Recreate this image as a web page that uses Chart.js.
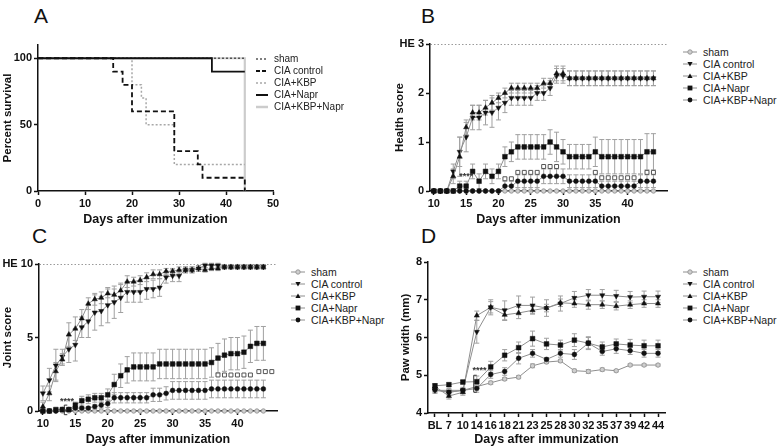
<!DOCTYPE html>
<html>
<head>
<meta charset="utf-8">
<script src="https://cdn.jsdelivr.net/npm/chart.js@4.4.0/dist/chart.umd.min.js"></script>
<style>
  body { margin: 0; width: 778px; height: 447px; position: relative; overflow: hidden; background: #fff;
         font-family: "Liberation Sans", Arial, sans-serif; color: #111; }
  canvas { position: absolute; }
  .letter { position: absolute; font-size: 21px; line-height: 1; color: #111; }
  .legend { position: absolute; font-size: 10.5px; color: #222; }
  .legend div { height: 12px; line-height: 12px; display: flex; align-items: center; white-space: nowrap; }
  .legend svg { margin-right: 6px; flex: none; }
</style>
</head>
<body>
<div class="letter" style="left:34px;top:5px">A</div>
<div class="letter" style="left:421px;top:5px">B</div>
<div class="letter" style="left:32px;top:225px">C</div>
<div class="letter" style="left:421px;top:225px">D</div>

<canvas id="chartA" width="290" height="200" style="left:0;top:30px"></canvas>
<canvas id="chartB" width="290" height="200" style="left:390px;top:30px"></canvas>
<canvas id="chartC" width="290" height="197" style="left:0;top:250px"></canvas>
<canvas id="chartD" width="290" height="197" style="left:390px;top:250px"></canvas>

<script>
const FONT = '"Liberation Sans", Arial, sans-serif';

/* === DATA === */
const groups = ['sham', 'CIA control', 'CIA+KBP', 'CIA+Napr', 'CIA+KBP+Napr'];

// A - survival (step curves)
const aShamDays  = [0, 44];
const aShamSurv  = [100, 100];
const aCtrlDays  = [0, 16, 18, 20, 29, 34, 35, 44, 44];
const aCtrlSurv  = [100, 90, 80, 60, 30, 20, 10, 10, 0];
const aKbpDays   = [0, 20, 22, 23, 29, 44];
const aKbpSurv   = [100, 80, 70, 50, 20, 20];
const aNaprDays  = [0, 37, 44];
const aNaprSurv  = [100, 90, 90];
const aComboDays = [0, 44, 44];
const aComboSurv = [100, 100, 0];
const aXTicks = [0, 10, 20, 30, 40, 50];
const aYTicks = [0, 50, 100];

// B / C - daily scores
const scoreDays = [10, 11, 12, 13, 14, 15, 16, 17, 18, 19, 20, 21, 22, 23, 24, 25, 26, 27, 28, 29,
                   30, 31, 32, 33, 34, 35, 36, 37, 38, 39, 40, 41, 42, 43, 44];
const dayTicks = [10, 15, 20, 25, 30, 35, 40];

const bSham  = [0,0,0,0,0,0,0,0,0,0,0,0,0,0,0,0,0,0,0,0,0,0,0,0,0,0,0,0,0,0,0,0,0,0,0];
const bCtrl  = [0,0,0,0.4,0.8,1.1,1.5,1.5,1.6,1.6,1.7,1.8,1.9,1.9,1.9,1.9,2.0,2.0,2.1,2.35,2.35,
                2.3,2.3,2.3,2.3,2.3,2.3,2.3,2.3,2.3,2.3,2.3,2.3,2.3,2.3];
const bKbp   = [0,0,0,0.3,0.7,1.3,1.6,1.6,1.7,1.8,1.9,2.0,2.1,2.1,2.1,2.1,2.1,2.2,2.2,2.4,2.4,
                2.3,2.3,2.3,2.3,2.3,2.3,2.3,2.3,2.3,2.3,2.3,2.3,2.3,2.3];
const bNapr  = [0,0,0,0,0.1,0.1,0.4,0.2,0.4,0.3,0.4,0.7,0.8,0.9,0.9,0.9,0.9,0.9,1.0,0.9,0.8,
                0.7,0.7,0.7,0.7,0.8,0.7,0.7,0.7,0.7,0.7,0.7,0.7,0.8,0.8];
const bCombo = [0,0,0,0,0,0,0,0,0,0,0,0.1,0.1,0.2,0.2,0.2,0.2,0.3,0.3,0.3,0.3,
                0.2,0.2,0.2,0.2,0.2,0.1,0.1,0.1,0.1,0.1,0.1,0.2,0.2,0.2];
const bCtrlErr  = [0,0,0,0.15,0.3,0.3,0.25,0.25,0.25,0.3,0.25,0.2,0.15,0.15,0.15,0.15,0.15,0.15,0.15,0.15,0.15,
                   0.15,0.15,0.15,0.15,0.15,0.15,0.15,0.15,0.15,0.15,0.15,0.15,0.15,0.15];
const bKbpErr   = [0,0,0,0.15,0.4,0.15,0.15,0.15,0.15,0.15,0.1,0.1,0.1,0.1,0.1,0.1,0.1,0.1,0.1,0.15,0.15,
                   0.15,0.15,0.15,0.15,0.15,0.15,0.15,0.15,0.15,0.15,0.15,0.15,0.15,0.15];
const bNaprErr  = [0,0,0,0,0.1,0.1,0.15,0.15,0.15,0.15,0.15,0.2,0.2,0.25,0.25,0.25,0.25,0.25,0.25,0.3,0.25,
                   0.25,0.25,0.25,0.25,0.3,0.35,0.35,0.35,0.35,0.35,0.35,0.35,0.37,0.37];
const bComboErr = [0,0,0,0,0,0,0,0,0,0,0,0.1,0.1,0.13,0.13,0.13,0.13,0.15,0.15,0.15,0.15,
                   0.13,0.13,0.13,0.13,0.13,0.1,0.1,0.1,0.1,0.1,0.1,0.13,0.13,0.13];
const bSigDays   = [21, 22, 23, 24, 25, 26, 27, 28, 29, 35, 36, 37, 38, 39, 40, 41, 43, 44];
const bSigLevels = [0.25,0.25,0.38,0.38,0.38,0.38,0.5,0.5,0.5,0.38,0.27,0.27,0.27,0.27,0.27,0.27,0.38,0.38];
const bYTicks  = [0, 1, 2, 3];
const bYLabels = ['0', '1', '2', 'HE 3'];

const cSham  = [0,0,0,0,0,0,0,0,0,0,0,0,0,0,0,0,0,0,0,0,0,0,0,0,0,0,0,0,0,0,0,0,0,0,0];
const cCtrl  = [1.2,2.1,3.1,3.7,4.2,4.5,5.7,6.1,6.7,6.8,7.2,7.4,7.7,8.1,8.1,8.1,8.3,8.3,8.4,9.1,9.2,
                9.2,9.6,9.6,9.7,9.9,9.9,9.9,9.8,9.8,9.8,9.8,9.8,9.8,9.8];
const cKbp   = [0.3,1.2,2.7,3.5,5.2,5.6,6.3,7.3,7.6,7.7,8.0,7.9,8.2,8.8,8.8,8.9,9.1,9.3,9.3,9.5,9.5,
                9.6,9.6,9.6,9.7,9.6,9.7,9.7,9.8,9.8,9.8,9.8,9.8,9.8,9.8];
const cNapr  = [0,0,0.1,0.1,0.1,0.4,0.7,0.8,0.9,0.9,1.1,1.8,2.4,2.8,3.0,3.0,3.0,3.0,3.2,3.2,3.2,
                3.2,3.2,3.2,3.2,3.2,3.3,3.6,3.8,3.9,3.9,4.0,4.4,4.6,4.6];
const cCombo = [0,0,0,0.1,0.1,0.2,0.2,0.2,0.3,0.4,0.5,0.9,0.9,0.9,0.9,0.9,0.9,1.1,1.1,1.2,1.4,
                1.4,1.4,1.4,1.4,1.4,1.5,1.5,1.5,1.5,1.5,1.5,1.5,1.5,1.5];
const cCtrlErr  = [0.5,0.8,1.1,0.5,0.9,1.1,0.7,1.1,1.2,1.0,1.2,1.1,1.0,0.7,0.7,0.7,0.7,0.6,0.6,0.4,0.4,
                   0.4,0.2,0.2,0.2,0.15,0.15,0.15,0.15,0.15,0.15,0.15,0.15,0.15,0.15];
const cKbpErr   = [0.3,0.5,0.6,0.4,0.8,0.8,0.6,0.4,0.4,0.4,0.3,0.4,0.4,0.4,0.3,0.3,0.3,0.3,0.3,0.2,0.2,
                   0.2,0.2,0.2,0.2,0.15,0.15,0.15,0.15,0.15,0.15,0.15,0.15,0.15,0.15];
const cNaprErr  = [0.05,0.05,0.05,0.05,0.05,0.2,0.3,0.3,0.3,0.3,0.4,0.7,0.8,0.9,0.95,0.95,0.95,0.95,1.0,1.0,1.0,
                   1.0,1.0,1.0,1.0,1.0,1.0,1.0,1.1,1.1,1.1,1.1,1.1,1.15,1.15];
const cComboErr = [0.05,0.05,0.05,0.05,0.05,0.1,0.1,0.1,0.15,0.2,0.25,0.35,0.35,0.35,0.35,0.35,0.35,0.45,0.45,0.45,0.6,
                   0.6,0.6,0.6,0.6,0.6,0.6,0.6,0.6,0.6,0.6,0.6,0.6,0.6,0.6];
const cSigDays   = [37, 38, 39, 40, 41, 42, 43.3, 44.3, 45.3];
const cSigLevels = [2.45, 2.45, 2.45, 2.45, 2.45, 2.45, 2.68, 2.68, 2.68];
const cYTicks  = [0, 5, 10];
const cYLabels = ['0', '5', 'HE 10'];

// D - paw width
const dLabels = ['BL', '7', '10', '14', '16', '18', '21', '23', '25', '28', '30', '32', '35', '37', '39', '42', '44'];
const dSham  = [4.6,4.6,4.6,4.7,4.8,4.9,4.95,5.25,5.35,5.38,5.12,5.1,5.15,5.12,5.27,5.27,5.27];
const dCtrl  = [4.6,4.55,4.6,6.15,6.8,6.72,6.85,6.85,6.78,6.9,7.05,7.12,7.12,7.1,7.07,7.08,7.08];
const dKbp   = [4.7,4.45,4.55,6.58,6.8,6.6,6.65,6.72,6.78,6.92,6.9,6.87,6.87,6.83,6.87,6.9,6.9];
const dNapr  = [4.72,4.75,4.82,4.83,5.22,5.53,5.73,5.97,5.83,5.8,5.93,5.85,5.75,5.83,5.8,5.78,5.78];
const dCombo = [4.62,4.55,4.6,4.65,5.02,5.1,5.45,5.58,5.42,5.58,5.55,5.85,5.63,5.7,5.65,5.58,5.58];
const dShamErr  = [0.06,0.04,0.04,0.04,0.04,0.04,0.04,0.05,0.04,0.04,0.04,0.05,0.04,0.03,0.03,0.03,0.03];
const dCtrlErr  = [0.08,0.08,0.08,0.3,0.2,0.25,0.25,0.22,0.22,0.2,0.17,0.15,0.15,0.15,0.15,0.15,0.15];
const dKbpErr   = [0.08,0.08,0.08,0.12,0.15,0.15,0.15,0.1,0.1,0.1,0.1,0.12,0.1,0.1,0.1,0.1,0.1];
const dNaprErr  = [0.05,0.05,0.05,0.15,0.15,0.15,0.15,0.2,0.15,0.13,0.17,0.15,0.13,0.13,0.15,0.15,0.15];
const dComboErr = [0.05,0.05,0.05,0.1,0.1,0.1,0.15,0.1,0.05,0.1,0.13,0.17,0.1,0.12,0.1,0.1,0.1];
const dYTicks = [4, 5, 6, 7, 8];

/* === STYLES === */
const tickFont  = { family: FONT, size: 11, weight: 'bold' };
const yTitleFont = { family: FONT, size: 11.5, weight: 'bold' };
const xTitleFont = { family: FONT, size: 12.5, weight: 'bold' };
const LINE_GREY = '#8e8e8e';

const markers = [
  { style: 'circle',   r: 2.2, rot: 0,   fill: '#cfcfcf', stroke: '#9a9a9a', bw: 1 },
  { style: 'triangle', r: 3.0, rot: 180, fill: '#111',    stroke: '#111',    bw: 0.5 },
  { style: 'triangle', r: 3.0, rot: 0,   fill: '#111',    stroke: '#111',    bw: 0.5 },
  { style: 'rect',     r: 3.3, rot: 0,   fill: '#111',    stroke: '#111',    bw: 0.5 },
  { style: 'circle',   r: 2.4, rot: 0,   fill: '#111',    stroke: '#111',    bw: 0.5 }
];

/* === PLUGINS === */
const errorBars = {
  id: 'errorBars',
  beforeDatasetsDraw(chart) {
    const ctx = chart.ctx, ys = chart.scales.y;
    chart.data.datasets.forEach((ds, i) => {
      if (!ds.errs) return;
      const meta = chart.getDatasetMeta(i);
      ctx.save();
      ctx.strokeStyle = '#a0a0a0';
      ctx.lineWidth = 1;
      meta.data.forEach((pt, j) => {
        const e = ds.errs[j];
        if (!e) return;
        const v = ds.data[j].y;
        const top = ys.getPixelForValue(v + e), bot = ys.getPixelForValue(v - e);
        ctx.beginPath();
        ctx.moveTo(pt.x, top); ctx.lineTo(pt.x, bot);
        ctx.moveTo(pt.x - 2.5, top); ctx.lineTo(pt.x + 2.5, top);
        ctx.moveTo(pt.x - 2.5, bot); ctx.lineTo(pt.x + 2.5, bot);
        ctx.stroke();
      });
      ctx.restore();
    });
  }
};

const stars = {
  id: 'stars',
  afterDatasetsDraw(chart, args, opts) {
    const ctx = chart.ctx, xs = chart.scales.x, ys = chart.scales.y;
    ctx.save();
    ctx.fillStyle = '#333';
    ctx.strokeStyle = '#333';
    ctx.lineWidth = 1;
    ctx.font = 'bold 9px ' + FONT;
    ctx.textAlign = 'center';
    ctx.textBaseline = 'middle';
    (opts.items || []).forEach(it => {
      ctx.fillText(it.text, xs.getPixelForValue(it.x), ys.getPixelForValue(it.y));
    });
    (opts.brackets || []).forEach(b => {
      const x = xs.getPixelForValue(b.x), y1 = ys.getPixelForValue(b.y1), y2 = ys.getPixelForValue(b.y2);
      ctx.beginPath();
      ctx.moveTo(x + 3, y1); ctx.lineTo(x, y1); ctx.lineTo(x, y2); ctx.lineTo(x + 3, y2);
      ctx.stroke();
    });
    ctx.restore();
  }
};

/* === HELPERS === */
function axis(title, titleFont, titlePad, fit) {
  return {
    border: { color: '#111', width: 1.5 },
    grid: { drawOnChartArea: false, tickLength: 4, tickColor: '#111', tickWidth: 1.5 },
    ticks: { color: '#111', font: tickFont, padding: 2, maxRotation: 0, autoSkip: false },
    title: { display: true, text: title, color: '#111', font: titleFont, padding: titlePad },
    afterFit: fit
  };
}

function markerSeries(label, xs, ys, errs, m, order) {
  return {
    label, errs, order,
    data: xs.map((x, i) => ({ x, y: ys[i] })),
    showLine: true,
    borderColor: LINE_GREY, borderWidth: 1,
    pointStyle: m.style, pointRadius: m.r, pointRotation: m.rot,
    pointBackgroundColor: m.fill, pointBorderColor: m.stroke, pointBorderWidth: m.bw,
    clip: false
  };
}

function sigSeries(xs, ys) {
  return {
    label: 'sig', order: 0,
    data: xs.map((x, i) => ({ x, y: ys[i] })),
    showLine: false,
    pointStyle: 'rect', pointRadius: 2.8, pointBackgroundColor: '#fff',
    pointBorderColor: '#555', pointBorderWidth: 1, clip: false
  };
}

function stepSeries(label, xs, ys, color, width, dash, order) {
  return {
    label, order,
    data: xs.map((x, i) => ({ x, y: ys[i] })),
    stepped: 'before', borderColor: color, borderWidth: width, borderDash: dash,
    pointRadius: 0, clip: false
  };
}

const baseOptions = (padding, scales, extraPlugins) => ({
  responsive: false,
  animation: false,
  layout: { padding },
  scales,
  plugins: Object.assign({ legend: { display: false }, tooltip: { enabled: false } }, extraPlugins || {})
});

/* === A: SURVIVAL === */
new Chart(document.getElementById('chartA'), {
  type: 'line',
  data: {
    datasets: [
      stepSeries('CIA+KBP+Napr', aComboDays, aComboSurv, '#cccccc', 2.2, [], 5),
      stepSeries('CIA+KBP', aKbpDays, aKbpSurv, '#a8a8a8', 1.5, [2, 2], 4),
      stepSeries('sham', aShamDays, aShamSurv, '#555', 1.5, [2, 2], 3),
      stepSeries('CIA+Napr', aNaprDays, aNaprSurv, '#111', 1.8, [], 2),
      stepSeries('CIA control', aCtrlDays, aCtrlSurv, '#111', 1.8, [5, 3], 1)
    ]
  },
  options: baseOptions({ left: 0, right: 17, top: 15, bottom: 0 }, {
    x: Object.assign(axis('Days after immunization', xTitleFont, { top: 0, bottom: 3 }, s => { s.height = 39; }), {
      type: 'linear', min: 0, max: 50,
      afterBuildTicks: s => { s.ticks = aXTicks.map(v => ({ value: v })); }
    }),
    y: Object.assign(axis('Percent survival', yTitleFont, { top: 1, bottom: 0 }, s => { s.width = 38; }), {
      type: 'linear', min: 0, max: 110,
      afterBuildTicks: s => { s.ticks = aYTicks.map(v => ({ value: v })); }
    })
  })
});

/* === B / C: SCORE CHARTS === */
function scoreChart(id, title, series, errs, sigX, sigY, yTicks, yLabels, yMax, pads, starOpts) {
  const datasets = groups.map((g, i) =>
    markerSeries(g, scoreDays, series[i], errs[i], markers[i], i === 0 ? 6 : 6 - i));
  datasets.push(sigSeries(sigX, sigY));
  const y = axis(title, yTitleFont, { top: pads.yTitle, bottom: 0 }, s => { s.width = pads.yWidth; });
  y.type = 'linear';
  y.min = 0; y.max = yMax;
  y.afterBuildTicks = s => { s.ticks = yTicks.map(v => ({ value: v })); };
  y.ticks.callback = (v) => yLabels[yTicks.indexOf(v)];
  y.grid = {
    drawOnChartArea: true, tickLength: 4, tickColor: '#111', tickWidth: 1.5, lineWidth: 1,
    color: c => (c.tick && c.tick.value === yMax) ? '#9a9a9a' : 'rgba(0,0,0,0)'
  };
  y.border.dash = [1.5, 2];
  const x = axis('Days after immunization', xTitleFont, { top: 0, bottom: pads.xTitle }, s => { s.height = pads.xHeight; });
  x.type = 'linear';
  x.min = 9.4; x.max = 46.1;
  x.afterBuildTicks = s => { s.ticks = dayTicks.map(v => ({ value: v })); };
  return new Chart(document.getElementById(id), {
    type: 'line',
    data: { datasets },
    options: baseOptions(pads.layout, { x, y }, { stars: starOpts }),
    plugins: [errorBars, stars]
  });
}

scoreChart('chartB', 'Health score',
  [bSham, bCtrl, bKbp, bNapr, bCombo],
  [null, bCtrlErr, bKbpErr, bNaprErr, bComboErr],
  bSigDays, bSigLevels, bYTicks, bYLabels, 3,
  { layout: { left: 0, right: 13, top: 14, bottom: 0 }, yWidth: 40, yTitle: 3, xHeight: 39, xTitle: 2.5 },
  { items: [{ x: 15, y: 0.3, text: '****' }], brackets: [] });

scoreChart('chartC', 'Joint score',
  [cSham, cCtrl, cKbp, cNapr, cCombo],
  [null, cCtrlErr, cKbpErr, cNaprErr, cComboErr],
  cSigDays, cSigLevels, cYTicks, cYLabels, 10,
  { layout: { left: 0, right: 13, top: 14, bottom: 0 }, yWidth: 39, yTitle: 1, xHeight: 36, xTitle: 0 },
  { items: [{ x: 13.7, y: 0.65, text: '****' }], brackets: [{ x: 13.3, y1: 0.4, y2: -0.25 }] });

/* === D: PAW WIDTH === */
(function () {
  const series = [dSham, dCtrl, dKbp, dNapr, dCombo];
  const errs = [dShamErr, dCtrlErr, dKbpErr, dNaprErr, dComboErr];
  const datasets = groups.map((g, i) =>
    markerSeries(g, dLabels, series[i], errs[i], markers[i], i === 0 ? 6 : 6 - i));
  const x = axis('Days after immunization', xTitleFont, { top: 0, bottom: 0 }, s => { s.height = 34; });
  x.type = 'category';
  x.labels = dLabels;
  x.offset = true;
  x.grid.offset = false;
  const y = axis('Paw width (mm)', yTitleFont, { top: 9, bottom: 0 }, s => { s.width = 38; });
  y.type = 'linear';
  y.min = 4; y.max = 8;
  y.afterBuildTicks = s => { s.ticks = dYTicks.map(v => ({ value: v })); };
  new Chart(document.getElementById('chartD'), {
    type: 'line',
    data: { labels: dLabels, datasets },
    options: baseOptions({ left: 0, right: 15, top: 12, bottom: 0 }, { x, y }, {
      stars: { items: [{ x: 3.2, y: 5.12, text: '****' }], brackets: [{ x: 2.78, y1: 5.0, y2: 4.55 }] }
    }),
    plugins: [errorBars, stars]
  });
})();

/* === HTML LEGENDS === */
const lineIcons = [
  '<line x1="0" y1="6" x2="12" y2="6" stroke="#555" stroke-width="1.5" stroke-dasharray="2 2"/>',
  '<line x1="0" y1="6" x2="12" y2="6" stroke="#111" stroke-width="2" stroke-dasharray="4 2"/>',
  '<line x1="0" y1="6" x2="12" y2="6" stroke="#a8a8a8" stroke-width="1.5" stroke-dasharray="2 2"/>',
  '<line x1="0" y1="6" x2="12" y2="6" stroke="#111" stroke-width="2"/>',
  '<line x1="0" y1="6" x2="12" y2="6" stroke="#cccccc" stroke-width="2.5"/>'
];
const markerIcons = [
  '<circle cx="7" cy="6" r="2.2" fill="#cfcfcf" stroke="#9a9a9a"/>',
  '<polygon points="4.4,4 9.6,4 7,8.5" fill="#111"/>',
  '<polygon points="4.4,8 9.6,8 7,3.5" fill="#111"/>',
  '<rect x="4.6" y="3.6" width="4.8" height="4.8" fill="#111"/>',
  '<circle cx="7" cy="6" r="2.4" fill="#111"/>'
];

function htmlLegend(left, top, size, withMarkers) {
  const box = document.createElement('div');
  box.className = 'legend';
  box.style.left = left + 'px';
  box.style.top = top + 'px';
  box.style.fontSize = size + 'px';
  groups.forEach((g, i) => {
    const row = document.createElement('div');
    const icon = withMarkers
      ? '<svg width="14" height="12"><line x1="0" y1="6" x2="14" y2="6" stroke="' + LINE_GREY + '"/>' + markerIcons[i] + '</svg>'
      : '<svg width="12" height="12">' + lineIcons[i] + '</svg>';
    row.innerHTML = icon + '<span>' + g + '</span>';
    box.appendChild(row);
  });
  document.body.appendChild(box);
}

htmlLegend(256, 53, 10, false);
htmlLegend(683, 46, 10.5, true);
htmlLegend(291, 266, 10.5, true);
htmlLegend(683, 266, 10.5, true);
</script>
</body>
</html>
